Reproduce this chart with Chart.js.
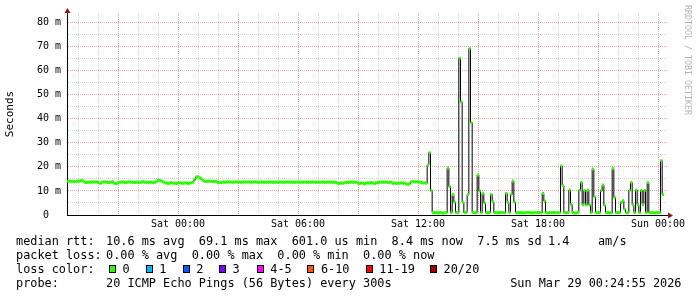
<!DOCTYPE html>
<html>
<head>
<meta charset="utf-8">
<script src="https://cdn.jsdelivr.net/npm/chart.js@4/dist/chart.umd.min.js"></script>
<style>
  html, body { margin: 0; padding: 0; background: #fff; }
  #wrap { position: relative; width: 697px; height: 297px; overflow: hidden; }
  #c { position: absolute; left: 0; top: 0; }
  .t { position: absolute; font-family: "DejaVu Sans Mono", monospace; font-size: 11.86px; line-height: 14px; white-space: pre; color: #000; }
  .box { position: absolute; box-sizing: border-box; width: 7px; height: 8px; border: 1px solid #000; }
  #mark { position: absolute; left: 683px; top: 5px; writing-mode: vertical-rl; font-family: "DejaVu Sans Mono", monospace; font-size: 8.3px; color: #b4b4b4; white-space: pre; }
</style>
</head>
<body>
<div id="wrap">
  <canvas id="c" width="697" height="297"></canvas>
  <div id="mark">RRDTOOL / TOBI OETIKER</div>
  <div class="t" style="left:16px;top:234px">median rtt:</div>
  <div class="t" style="left:106px;top:234px">10.6 ms avg  69.1 ms max  601.0 us min  8.4 ms now  7.5 ms sd</div>
  <div class="t" style="left:548px;top:234px">1.4    am/s</div>
  <div class="t" style="left:16px;top:248px">packet loss:</div>
  <div class="t" style="left:106px;top:248px">0.00 % avg  0.00 % max  0.00 % min  0.00 % now</div>
  <div class="t" style="left:16px;top:262px">loss color:</div>
  <div id="losslegend"></div>
  <div class="t" style="left:16px;top:276px">probe:</div>
  <div class="t" style="left:106px;top:276px">20 ICMP Echo Pings (56 Bytes) every 300s</div>
  <div class="t" style="right:15.5px;top:276px">Sun Mar 29 00:24:55 2026</div>
</div>
<script>
// samples every 5 minutes, hours relative to Sat 00:00
const startHour = -5.5;
const stepHours = 5 / 60;

// median rtt (ms), Fri 18:30 -> Sat 11:55
const rttBefore = [
  14.0, 14.1, 14.0, 14.0, 13.9, 14.0, 14.1, 14.0, 14.3, 14.2, 13.6, 13.5,
  13.6, 13.7, 13.8, 13.7, 13.7, 13.8, 13.6, 13.2, 13.4, 13.7, 13.8, 13.7,
  13.5, 13.5, 13.7, 13.8, 13.1, 13.0, 13.3, 13.6, 13.7, 13.7, 13.6, 13.5,
  13.7, 13.8, 13.7, 13.6, 13.5, 13.7, 13.6, 13.4, 13.7, 13.8, 13.7, 13.5,
  13.6, 13.7, 13.7, 13.4, 13.6, 13.8, 14.3, 14.4, 14.2, 13.8, 13.3, 13.4,
  13.0, 13.3, 13.5, 13.2, 13.3, 13.0, 13.3, 13.4, 13.3, 13.2, 13.3, 13.4,
  13.1, 13.3, 13.4, 13.6, 14.8, 15.8, 15.9, 15.5, 15.0, 14.5, 14.0, 13.9,
  14.0, 14.1, 14.0, 13.9, 14.0, 13.9, 13.4, 13.6, 13.5, 13.7, 13.6, 13.7,
  13.8, 13.7, 13.7, 13.6, 13.7, 13.8, 13.7, 13.7, 13.6, 13.7, 13.7, 13.8,
  13.7, 13.7, 13.6, 13.7, 13.8, 13.7, 13.6, 13.6, 13.7, 13.6, 13.6, 13.7,
  13.6, 13.7, 13.7, 13.6, 13.6, 13.7, 13.6, 13.7, 13.7, 13.6, 13.6, 13.7,
  13.7, 13.6, 13.7, 13.6, 13.6, 13.7, 13.7, 13.6, 13.7, 13.6, 13.7, 13.6,
  13.6, 13.7, 13.6, 13.7, 13.6, 13.6, 13.7, 13.6, 13.7, 13.7, 13.6, 13.6,
  13.7, 13.6, 13.7, 13.6, 13.6, 13.5, 13.2, 13.1, 13.3, 13.2, 13.4, 13.6,
  13.5, 13.6, 13.7, 13.6, 13.7, 13.6, 13.3, 13.0, 13.4, 13.2, 12.9, 13.3,
  13.4, 13.2, 13.5, 13.3, 13.0, 13.4, 13.5, 13.6, 13.7, 13.6, 13.6, 13.7,
  13.5, 13.6, 13.7, 13.2, 13.3, 13.1, 13.3, 13.2, 13.4, 13.2, 13.3, 12.9,
  12.7, 13.1, 13.8, 13.9, 13.7, 13.8
];

// median rtt (ms), Sat 12:00 -> Sun 00:15
const rttAfter = [
  13.8, 13.7, 13.5, 13.3, 13.4, 13.2, 20.8, 25.9, 10.1, 1.0, 0.9, 1.1,
  0.8, 1.0, 0.9, 0.7, 0.9, 1.0, 19.5, 11.8, 1.0, 8.5, 5.3, 1.1,
  0.9, 65.2, 47.0, 5.3, 1.0, 1.1, 8.5, 69.2, 38.4, 1.0, 0.9, 1.0,
  16.6, 10.0, 1.0, 9.0, 5.0, 1.0, 0.9, 1.0, 8.5, 5.5, 1.0, 1.0,
  0.9, 1.0, 1.1, 1.0, 0.9, 9.0, 5.3, 1.0, 8.5, 14.1, 5.3, 1.0,
  0.9, 1.0, 1.0, 0.8, 0.9, 1.0, 1.1, 0.9, 1.0, 0.8, 1.0, 0.9,
  1.0, 1.0, 0.9, 9.0, 5.8, 1.0, 0.8, 1.0, 0.9, 1.0, 1.0, 0.9,
  1.0, 0.9, 20.4, 12.2, 1.0, 0.9, 1.0, 10.4, 4.4, 1.0, 0.8, 0.9,
  1.0, 10.2, 13.6, 4.2, 10.2, 4.2, 10.4, 4.2, 1.0, 19.1, 7.5, 1.0,
  0.9, 1.0, 10.2, 12.5, 4.0, 1.0, 0.9, 1.0, 0.8, 19.3, 7.3, 1.0,
  0.9, 1.0, 5.2, 5.9, 2.4, 1.0, 0.9, 10.2, 13.5, 4.2, 1.0, 10.4,
  4.2, 1.0, 10.2, 4.4, 10.2, 1.0, 13.5, 1.0, 0.9, 1.0, 0.8, 1.0,
  0.9, 1.0, 22.6, 8.5
];

// hourly grid, labels every 6 hours
const gridHours = [-5, -4, -3, -2, -1, 0, 1, 2, 3, 4, 5, 6, 7, 8, 9, 10, 11, 12,
  13, 14, 15, 16, 17, 18, 19, 20, 21, 22, 23, 24];
const timeTickHours = [0, 6, 12, 18, 24];
const timeTickLabels = ["Sat 00:00", "Sat 06:00", "Sat 12:00", "Sat 18:00", "Sun 00:00"];

// y grid every 5 ms, labels every 10 ms
const msGrid = [0, 5, 10, 15, 20, 25, 30, 35, 40, 45, 50, 55, 60, 65, 70, 75, 80];

const lossBins = ["0", "1", "2", "3", "4-5", "6-10", "11-19", "20/20"];
const lossColors = ["#2bff00", "#00b8ff", "#0059ff", "#7e00ff", "#ff00ff", "#ff5500", "#ff0000", "#a10000"];

// loss color legend (x positions are layout only)
const legendX = [109, 145.7, 182.7, 219, 256.7, 307.3, 365.7, 430];
const legendBox = document.getElementById("losslegend");
lossBins.forEach((bin, i) => {
  const b = document.createElement("div");
  b.className = "box";
  b.style.left = legendX[i] + "px";
  b.style.top = "265px";
  b.style.background = lossColors[i];
  legendBox.appendChild(b);
  const t = document.createElement("div");
  t.className = "t";
  t.style.left = (legendX[i] + 13.6) + "px";
  t.style.top = "262px";
  t.textContent = bin;
  legendBox.appendChild(t);
});

const medianRtt = rttBefore.concat(rttAfter);
const points = medianRtt.map((v, i) => ({ x: startHour + i * stepHours, y: v }));

const gridGray = "#d2d2d2";
const gridRed = "#e4a6a6";
const mono = "DejaVu Sans Mono";

// little arrows at the axis ends, like rrdtool
const arrows = {
  id: "arrows",
  afterDraw(chart) {
    const { ctx, chartArea: a } = chart;
    ctx.save();
    ctx.fillStyle = "#8b1a1a";
    ctx.beginPath();
    ctx.moveTo(a.left - 2.5, a.top);
    ctx.lineTo(a.left + 3.5, a.top);
    ctx.lineTo(a.left + 0.5, a.top - 5);
    ctx.closePath();
    ctx.fill();
    ctx.beginPath();
    ctx.moveTo(a.right, a.bottom - 2.5);
    ctx.lineTo(a.right, a.bottom + 3.5);
    ctx.lineTo(a.right + 5, a.bottom + 0.5);
    ctx.closePath();
    ctx.fill();
    ctx.restore();
  },
};

new Chart(document.getElementById("c"), {
  type: "line",
  data: {
    datasets: [
      {
        label: "median",
        data: points,
        showLine: false,
        pointStyle: "line",
        pointRadius: 1,
        pointHoverRadius: 1,
        pointBorderWidth: 3,
        pointBorderColor: lossColors[0],
        pointBackgroundColor: lossColors[0],
      },
      {
        label: "median step",
        data: points,
        stepped: "middle",
        borderColor: "#000",
        borderWidth: 1,
        pointRadius: 0,
        fill: false,
      },
    ],
  },
  options: {
    responsive: false,
    animation: false,
    devicePixelRatio: 1,
    events: [],
    layout: { padding: { top: 13, right: 29, left: 0, bottom: 0 } },
    plugins: { legend: { display: false }, tooltip: { enabled: false } },
    scales: {
      x: {
        type: "linear",
        min: -5.55,
        max: 24.5,
        afterFit(s) { s.height = 82; },
        afterBuildTicks(s) { s.ticks = gridHours.map((h) => ({ value: h })); },
        ticks: {
          autoSkip: false,
          maxRotation: 0,
          padding: 3,
          color: "#000",
          font: { family: mono, size: 10 },
          callback: (v) => {
            const j = timeTickHours.indexOf(v);
            return j < 0 ? "" : timeTickLabels[j];
          },
        },
        grid: {
          drawTicks: false,
          lineWidth: 1,
          color: (c) => (c.tick && c.tick.value % 3 === 0 ? gridRed : gridGray),
        },
        border: { color: "#000", width: 1, dash: [1, 1] },
      },
      y: {
        min: 0,
        max: 84,
        afterFit(s) { s.width = 67; },
        afterBuildTicks(s) { s.ticks = msGrid.map((v) => ({ value: v })); },
        ticks: {
          autoSkip: false,
          padding: 6,
          color: "#000",
          font: { family: mono, size: 10 },
          callback: (v) => (v % 10 !== 0 ? "" : v === 0 ? "0  " : v + " m"),
        },
        grid: {
          drawTicks: false,
          lineWidth: 1,
          color: (c) => (c.tick && c.tick.value % 10 === 0 ? gridRed : gridGray),
        },
        border: { color: "#000", width: 1, dash: [1, 1] },
        title: {
          display: true,
          text: "Seconds",
          color: "#000",
          font: { family: mono, size: 11 },
          padding: { top: 4, bottom: 0 },
        },
      },
    },
  },
  plugins: [arrows],
});
</script>
</body>
</html>
